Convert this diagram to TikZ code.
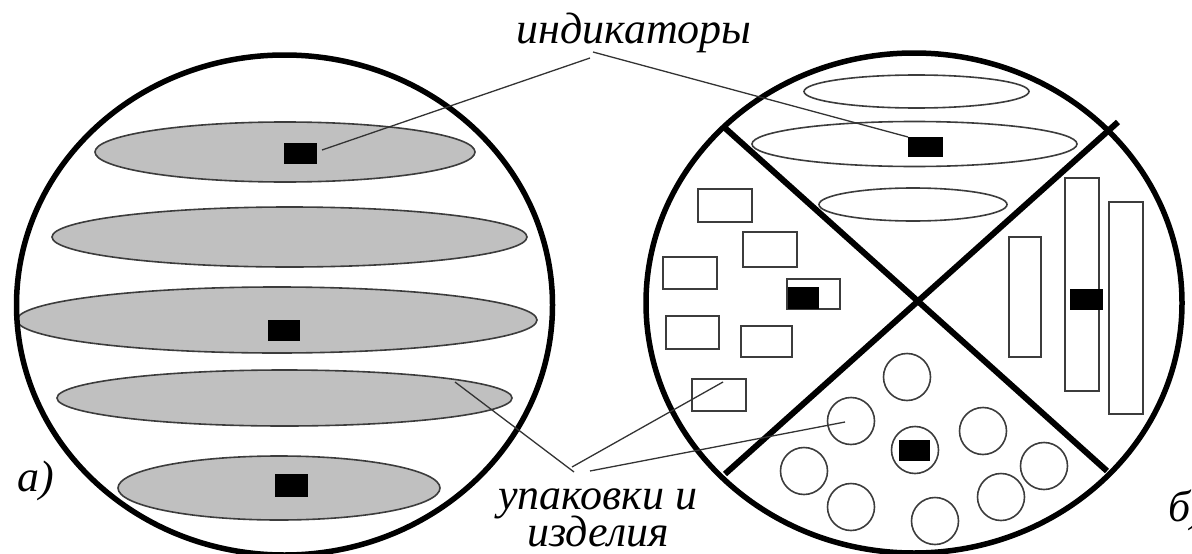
\documentclass[tikz,border=0pt]{standalone}
\usepackage{fontspec}
\setmainfont{Liberation Serif}
\definecolor{diskgray}{RGB}{192,192,192}
\definecolor{edgegray}{RGB}{60,60,60}
\begin{document}
\begin{tikzpicture}[x=1pt,y=-1pt,
  ring/.style={line width=5.5pt,black},
  divider/.style={line width=6pt,black},
  disk/.style={fill=diskgray,draw=edgegray,line width=1.6pt},
  hollow/.style={draw=edgegray,line width=1.6pt,fill=white},
  marker/.style={fill=black,draw=none},
  leader/.style={draw=black!80,line width=1.3pt},
  lbl/.style={inner sep=0pt,font=\fontsize{44}{50}\selectfont\itshape}]
\useasboundingbox (0,0) rectangle (1192,554);
% ---------- left picture (a) ----------
\draw[disk] (285,152) ellipse [x radius=190pt,y radius=30pt];
\draw[disk] (289.5,237) ellipse [x radius=237.5pt,y radius=30pt];
\draw[disk] (277,320) ellipse [x radius=260pt,y radius=33pt];
\draw[disk] (284.5,398) ellipse [x radius=227.5pt,y radius=28pt];
\draw[disk] (279,488) ellipse [x radius=161pt,y radius=32pt];
\fill[marker] (284,143) rectangle (317,164);
\fill[marker] (268,320) rectangle (300,341);
\fill[marker] (275,474) rectangle (308,497);
\draw[ring] (284.5,305) ellipse [x radius=268pt,y radius=250pt];
% ---------- right picture (b) ----------
% top sector: flat ellipses
\draw[hollow] (916.5,91.5) ellipse [x radius=112.5pt,y radius=16.5pt];
\draw[hollow] (914.5,144) ellipse [x radius=162.5pt,y radius=22.5pt];
\draw[hollow] (913,204.5) ellipse [x radius=94pt,y radius=16.5pt];
\fill[marker] (908,137) rectangle (943,157);
% left sector: boxes
\draw[hollow] (698,189) rectangle (752,222);
\draw[hollow] (743,232) rectangle (797,267);
\draw[hollow] (663,257) rectangle (717,289);
\draw[hollow] (787,279) rectangle (840,309);
\fill[marker] (788,287) rectangle (819,309);
\draw[hollow] (666,316) rectangle (719,349);
\draw[hollow] (741,326) rectangle (792,357);
\draw[hollow] (692,379) rectangle (746,411);
% right sector: tall boxes
\draw[hollow] (1009,237) rectangle (1041,357);
\draw[hollow] (1065,178) rectangle (1099,391);
\draw[hollow] (1109,202) rectangle (1143,414);
\fill[marker] (1070,289) rectangle (1103,310);
% bottom sector: round items
\foreach \cx/\cy in {907/377,851/421,915/450,983/431,1044/466,1001/497,935/521,851/507,804/471}
  \draw[hollow] (\cx,\cy) circle [radius=23.5pt];
\fill[marker] (899,440) rectangle (930,461);
% ring and dividers
\draw[ring] (914,303) ellipse [x radius=268pt,y radius=250pt];
\coordinate (xa) at (725,128);
\coordinate (xb) at (1107,471);
\coordinate (xc) at (725,474);
\coordinate (xd) at (1118,122);
\draw[divider] (xa) -- (xb);
\draw[divider] (xc) -- (xd);
% ---------- labels ----------
\node[lbl,anchor=base] (ind) at (634,43) {индикаторы};
\node[lbl,anchor=base] (upak) at (598,509) {упаковки и};
\node[lbl,anchor=base] (izd) at (598,546) {изделия};
\node[lbl,anchor=base west] (la) at (17,491) {а)};
\node[lbl,anchor=base west] (lb) at (1168,521) {б)};
% ---------- leader lines ----------
\coordinate (indL) at (590,58);
\coordinate (indR) at (593,52);
\coordinate (t1) at (322,150);
\coordinate (t2) at (908,137);
\draw[leader] (indL) -- (t1);
\draw[leader] (indR) -- (t2);
\coordinate (upL) at (574,472);
\coordinate (upM) at (572,467);
\coordinate (upR) at (590,471);
\coordinate (p1) at (455,382);
\coordinate (p2) at (723,382);
\coordinate (p3) at (845,422);
\draw[leader] (upL) -- (p1);
\draw[leader] (upM) -- (p2);
\draw[leader] (upR) -- (p3);
\end{tikzpicture}
\end{document}
